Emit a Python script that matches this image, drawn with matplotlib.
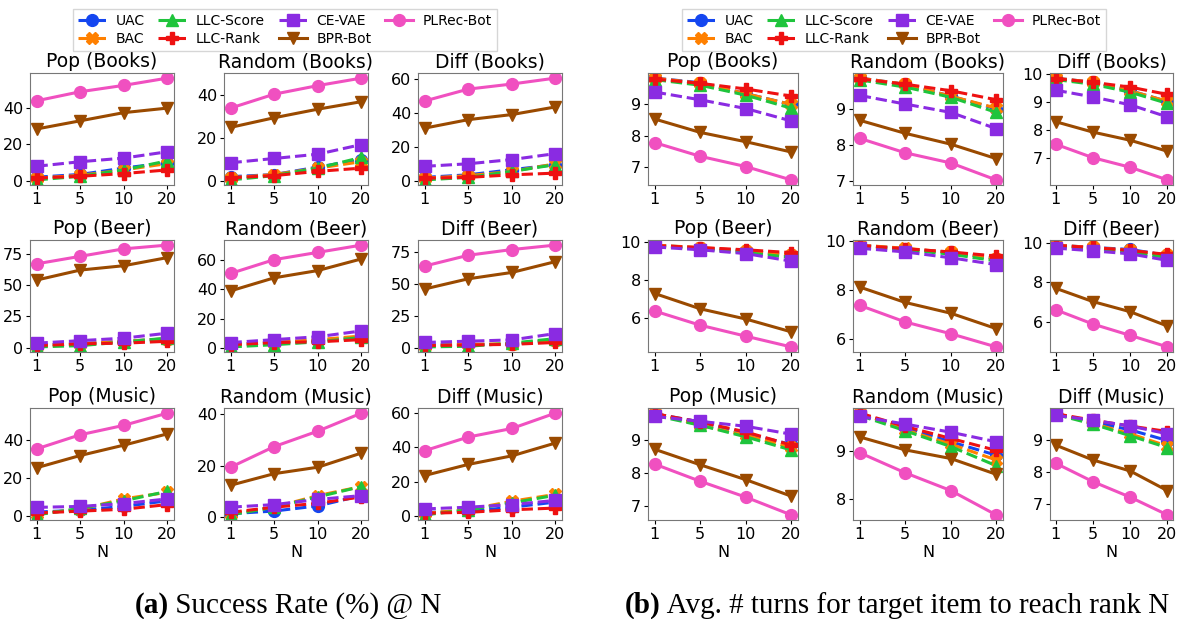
import matplotlib
matplotlib.use("Agg")
import matplotlib.pyplot as plt
from matplotlib.lines import Line2D

# ---------------- data ----------------
N_labels = ["1", "5", "10", "20"]
methods = ["UAC", "BAC", "LLC-Score", "LLC-Rank", "CE-VAE", "BPR-Bot", "PLRec-Bot"]
row_names = ["Books", "Beer", "Music"]
col_names = ["Pop", "Random", "Diff"]

# Success rate (%) @ N  -- order per panel: UAC, BAC, LLC-Score, LLC-Rank, CE-VAE, BPR-Bot, PLRec-Bot
sr_pop_books = [[2, 3.5, 7, 10], [1.5, 3, 6, 9.5], [0.5, 2.5, 6, 11], [1.5, 2.5, 4, 6],
                [8, 10.5, 12.5, 16], [28.5, 33, 37.5, 40], [44, 49, 52.5, 56.5]]
sr_rand_books = [[2, 3, 6.5, 10], [1.5, 3, 6, 9], [0.5, 2.5, 6, 11], [1.5, 2.5, 4.5, 6],
                 [8.5, 10.5, 12.5, 17], [25, 29.5, 33.5, 37], [34, 40.5, 44.5, 48]]
sr_diff_books = [[2, 3.5, 6.5, 9.5], [1.5, 3, 5.5, 10], [0.5, 2, 5.5, 9.5], [1.5, 2, 3.5, 4.5],
                 [8.5, 10, 12.5, 16], [31, 36, 39, 43.5], [47, 54, 57, 60.5]]
sr_pop_beer = [[2, 3, 5, 7], [1.5, 3, 5, 7], [0.5, 1.5, 4.5, 7.5], [1.5, 3, 3.5, 5],
               [3.5, 5.5, 7.5, 11.5], [54, 62, 65.5, 72], [67, 73, 79, 82]]
sr_rand_beer = [[2, 3.5, 5, 7], [2, 3.5, 5.5, 8], [0.5, 2, 4, 7], [2, 3.5, 4, 5.5],
                [3.5, 5.5, 7.5, 11.5], [39, 48, 53, 61], [51, 60.5, 65.5, 70.5]]
sr_diff_beer = [[2, 2.5, 2.5, 6], [1.5, 2.5, 3, 6], [0.5, 1, 3.5, 7], [1.5, 2, 2.5, 4],
                [4, 5, 6, 11], [46, 54, 59, 67.5], [64, 72.5, 77, 80.5]]
sr_pop_music = [[2, 3, 5, 8], [1, 3.5, 9, 12.5], [0.5, 4, 8, 13], [1.5, 2.5, 3.5, 6],
                [4.5, 5, 6.5, 9], [25.5, 32, 37.5, 43.5], [35.5, 43, 48, 54.5]]
sr_rand_music = [[1.5, 2.5, 4.5, 8.5], [1.5, 4, 8.5, 12], [1, 4, 8, 12], [2, 4, 5.5, 8],
                 [4, 5, 7, 8.5], [12.5, 17, 19.5, 25], [19.5, 27.5, 33.5, 40.5]]
sr_diff_music = [[2, 2.5, 5, 8], [1.5, 3.5, 8.5, 12.5], [0.5, 3.5, 7.5, 12], [1.5, 2, 3.5, 4.5],
                 [4, 5, 6.5, 9], [23.5, 30, 35, 42.5], [38, 46, 51, 60]]

# Avg. # turns for target item to reach rank N
tu_pop_books = [[9.85, 9.7, 9.35, 9.0], [9.85, 9.68, 9.35, 9.0], [9.8, 9.62, 9.3, 8.88], [9.82, 9.68, 9.5, 9.27],
                [9.4, 9.15, 8.87, 8.47], [8.53, 8.1, 7.8, 7.47], [7.77, 7.33, 7.0, 6.57]]
tu_rand_books = [[9.85, 9.68, 9.35, 9.0], [9.85, 9.68, 9.35, 9.02], [9.8, 9.6, 9.32, 8.9], [9.83, 9.68, 9.5, 9.25],
                 [9.37, 9.13, 8.9, 8.45], [8.68, 8.32, 8.02, 7.62], [8.18, 7.78, 7.5, 7.03]]
tu_diff_books = [[9.85, 9.7, 9.4, 9.02], [9.85, 9.7, 9.4, 9.02], [9.8, 9.63, 9.35, 8.95], [9.83, 9.7, 9.53, 9.27],
                 [9.42, 9.18, 8.9, 8.47], [8.3, 7.93, 7.64, 7.25], [7.5, 7.02, 6.68, 6.23]]
tu_pop_beer = [[9.85, 9.7, 9.55, 9.3], [9.85, 9.72, 9.55, 9.3], [9.8, 9.65, 9.45, 9.2], [9.82, 9.72, 9.6, 9.45],
               [9.75, 9.6, 9.4, 9.0], [7.28, 6.47, 5.93, 5.25], [6.35, 5.6, 5.02, 4.45]]
tu_rand_beer = [[9.85, 9.7, 9.55, 9.3], [9.85, 9.72, 9.55, 9.28], [9.8, 9.65, 9.48, 9.2], [9.83, 9.7, 9.57, 9.4],
                [9.72, 9.57, 9.33, 9.05], [8.13, 7.5, 7.06, 6.43], [7.38, 6.7, 6.22, 5.68]]
tu_diff_beer = [[9.87, 9.75, 9.65, 9.35], [9.87, 9.75, 9.6, 9.35], [9.82, 9.7, 9.5, 9.25], [9.85, 9.75, 9.6, 9.4],
                [9.72, 9.58, 9.43, 9.1], [7.7, 7.03, 6.52, 5.8], [6.62, 5.9, 5.33, 4.75]]
tu_pop_music = [[9.8, 9.55, 9.2, 8.87], [9.82, 9.45, 9.15, 8.78], [9.75, 9.45, 9.1, 8.7], [9.8, 9.55, 9.25, 8.85],
                [9.72, 9.57, 9.42, 9.18], [8.72, 8.25, 7.8, 7.3], [8.27, 7.75, 7.27, 6.73]]
tu_rand_music = [[9.78, 9.5, 9.2, 8.92], [9.8, 9.45, 9.15, 8.82], [9.75, 9.43, 9.1, 8.7], [9.8, 9.52, 9.27, 9.02],
                 [9.73, 9.57, 9.4, 9.2], [9.3, 9.03, 8.85, 8.52], [8.97, 8.55, 8.18, 7.67]]
tu_diff_music = [[9.8, 9.55, 9.3, 8.97], [9.82, 9.5, 9.18, 8.8], [9.78, 9.48, 9.12, 8.75], [9.8, 9.6, 9.42, 9.25],
                 [9.75, 9.6, 9.42, 9.18], [8.83, 8.37, 8.03, 7.42], [8.27, 7.7, 7.22, 6.67]]

sr_panels = [[sr_pop_books, sr_rand_books, sr_diff_books],
             [sr_pop_beer, sr_rand_beer, sr_diff_beer],
             [sr_pop_music, sr_rand_music, sr_diff_music]]
tu_panels = [[tu_pop_books, tu_rand_books, tu_diff_books],
             [tu_pop_beer, tu_rand_beer, tu_diff_beer],
             [tu_pop_music, tu_rand_music, tu_diff_music]]

sr_yticks = [[[0, 20, 40], [0, 20, 40], [0, 20, 40, 60]],
             [[0, 25, 50, 75], [0, 20, 40, 60], [0, 25, 50, 75]],
             [[0, 20, 40], [0, 20, 40], [0, 20, 40, 60]]]
tu_yticks = [[[7, 8, 9], [7, 8, 9], [7, 8, 9, 10]],
             [[6, 8, 10], [6, 8, 10], [6, 8, 10]],
             [[7, 8, 9], [8, 9], [7, 8, 9]]]

# ---------------- style ----------------
colors = ["#1446f0", "#ff8000", "#1fc43c", "#ee1111", "#8a2be2", "#9a4a00", "#f050c0"]
markers = ["o", "X", "^", "P", "s", "v", "o"]
styles = ["--", "--", "--", "--", "--", "-", "-"]

W, H = 1178, 619
fig = plt.figure(figsize=(W / 100, H / 100), dpi=100)

left_x = [30, 224, 418]
left_w = [144, 144, 144]
right_x = [648, 853, 1050]
right_w = [150, 150, 123]
rows_y = [73, 240, 408]
ax_h = 112


def draw_group(xs, ws, panels, yticks):
    for r in range(3):
        for c in range(3):
            ax = fig.add_axes([xs[c] / W, 1 - (rows_y[r] + ax_h) / H, ws[c] / W, ax_h / H])
            data = panels[r][c]
            x = list(range(len(N_labels)))
            for m in range(len(methods)):
                ax.plot(x, data[m], linestyle=styles[m], color=colors[m], marker=markers[m],
                        markersize=8.5, linewidth=2.2, label=methods[m])
            ax.set_xticks(x)
            ax.set_xticklabels(N_labels)
            ax.set_yticks(yticks[r][c])
            ax.set_title(f"{col_names[c]} ({row_names[r]})", fontsize=13.5, pad=4)
            ax.tick_params(labelsize=11.5, length=3, pad=2)
            for s in ax.spines.values():
                s.set_color("#777777")
            if r == 2:
                ax.set_xlabel("N", fontsize=11.5, labelpad=2)


draw_group(left_x, left_w, sr_panels, sr_yticks)
draw_group(right_x, right_w, tu_panels, tu_yticks)

handles = [Line2D([0], [0], linestyle=styles[m], color=colors[m], marker=markers[m],
                  markersize=8.5, linewidth=2.2) for m in range(len(methods))]
for cx in [285, 894]:
    fig.legend(handles, methods, loc="upper center", bbox_to_anchor=(cx / W, 1 - 2 / H),
               ncol=4, fontsize=10, frameon=True, handlelength=2.0, columnspacing=1.0,
               labelspacing=0.3, borderpad=0.35, handletextpad=0.7, fancybox=False,
               edgecolor="#cccccc")

# captions
fig.canvas.draw()
renderer = fig.canvas.get_renderer()
cap_font = "Liberation Serif"
for cx, bold, rest in [(288, "(a)", " Success Rate (%) @ N"),
                       (897, "(b)", " Avg. # turns for target item to reach rank N")]:
    t1 = fig.text(0, 0, bold, fontsize=21, fontweight="bold", family=cap_font)
    t2 = fig.text(0, 0, rest, fontsize=21, family=cap_font)
    w1 = t1.get_window_extent(renderer).width
    w2 = t2.get_window_extent(renderer).width
    x0 = cx - (w1 + w2) / 2
    yb = 1 - 613 / H
    t1.set_position((x0 / W, yb))
    t2.set_position(((x0 + w1) / W, yb))

fig.savefig("out.png", dpi=100)
